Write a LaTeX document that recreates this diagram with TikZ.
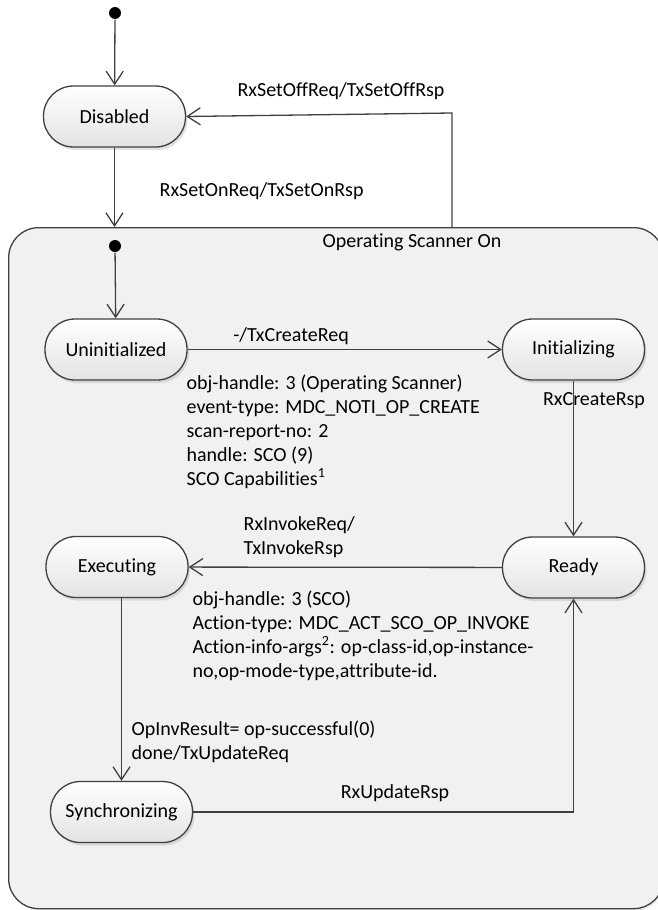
\documentclass[tikz,border=0pt]{standalone}
\usepackage{fontspec}
\setmainfont{Carlito}[Ligatures=NoCommon]
\usetikzlibrary{arrows.meta,shadows,calc}
\definecolor{linec}{HTML}{404040}
\definecolor{contfill}{HTML}{F1F1F1}
\begin{document}
\begin{tikzpicture}[x=1pt,y=-1pt,
  font=\fontsize{20}{24}\selectfont,
  line width=1.3pt,
  flow/.style={draw=linec,-{Straight Barb[length=13pt,width=17pt,line width=1.3pt]}},
  state/.style={draw=linec,rounded corners=30pt,minimum width=142pt,minimum height=61pt,
    inner sep=0pt,top color=white,bottom color=black!11,
    drop shadow={opacity=0.22,shadow xshift=2pt,shadow yshift=-3pt}},
  startdot/.style={circle,fill=black,inner sep=0pt,minimum size=12pt},
  lbl/.style={inner sep=0pt,align=left},
]
\useasboundingbox (0,0) rectangle (657,910);
% container
\node[draw=linec,fill=contfill,rounded corners=30pt,inner sep=0pt,
  minimum width=655pt,minimum height=681pt,anchor=north west,
  drop shadow={opacity=0.15,shadow xshift=2pt,shadow yshift=-2pt}] (cont) at (8,227) {};
\node[lbl] (contlbl) at (412,242) {Operating Scanner On};
% outer
\node[startdot] (init1) at (115,13) {};
\node[state] (dis) at (114.5,116.5) {Disabled};
\coordinate (ctop) at (114.5,227);
\coordinate (offA) at (452,227);
\coordinate (offB) at (452,113);
\draw[flow] (init1) -- (dis);
\draw[flow] (dis) -- (ctop);
\draw[flow] (offA) -- (offB) -- (dis.east);
\node[lbl] (offlbl) at (341,91) {RxSetOffReq/TxSetOffRsp};
\node[lbl,anchor=west] (onlbl) at (159,191) {RxSetOnReq/TxSetOnRsp};
% inner
\node[startdot] (init2) at (115,246) {};
\node[state] (uni) at (116,349.5) {Uninitialized};
\node[state] (ini) at (573.5,349.5) {Initializing};
\node[state] (exe) at (117,567) {Executing};
\node[state] (rdy) at (573.5,567.5) {Ready};
\node[state] (syn) at (121.5,812) {Synchronizing};
\draw[flow] (init2) -- (uni);
\draw[flow] (uni) -- (ini);
\draw[flow] (ini) -- (rdy);
\draw[flow] (rdy) -- (exe);
\draw[flow] (syn.north |- exe.south) -- (syn.north);
\draw[flow] (syn.east) -| (rdy.south);
% labels
\node[lbl] (crlbl) at (291,336) {-/TxCreateReq};
\node[lbl,anchor=north west] (note1) at (186,374) {obj-handle: 3 (Operating Scanner)\\
event-type: MDC\_NOTI\_OP\_CREATE\\
scan-report-no: 2\\
handle: SCO (9)\\
SCO Capabilities\textsuperscript{1}};
\node[lbl] (crsp) at (594,401) {RxCreateRsp};
\node[lbl,anchor=north west] (invlbl) at (243,516) {RxInvokeReq/\\TxInvokeRsp};
\node[lbl,anchor=north west] (note2) at (192,590) {obj-handle: 3 (SCO)\\
Action-type: MDC\_ACT\_SCO\_OP\_INVOKE\\
Action-info-args\textsuperscript{2}: op-class-id,op-instance-\\
no,op-mode-type,attribute-id.};
\node[lbl,anchor=north west] (oplbl) at (131,720) {OpInvResult= op-successful(0)\\done/TxUpdateReq};
\node[lbl] (updlbl) at (395,793) {RxUpdateRsp};
\end{tikzpicture}
\end{document}
